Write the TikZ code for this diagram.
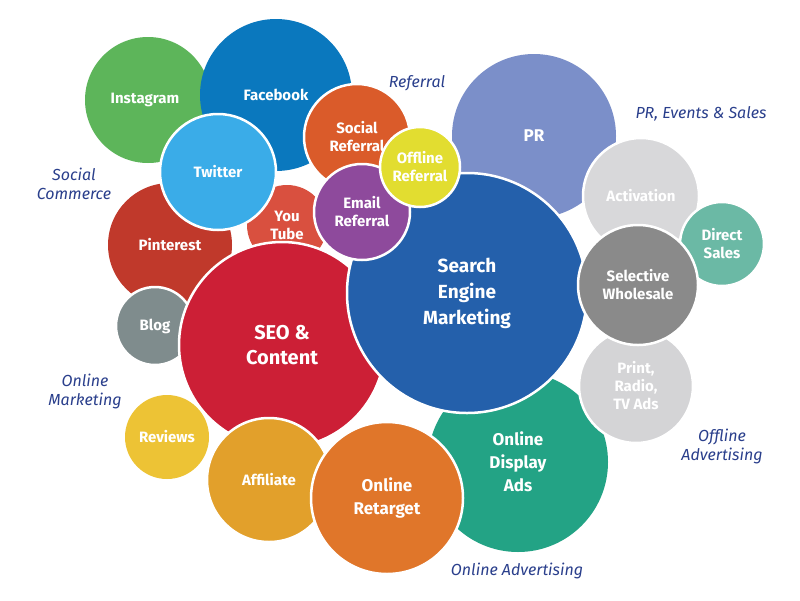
\documentclass[tikz,border=0pt]{standalone}
\usepackage{fontspec}
\setmainfont{Fira Sans}
\begin{document}
\begin{tikzpicture}[x=1pt,y=-1pt,
  bub/.style={circle,inner sep=0pt,align=center,text=white,font=\bfseries\fontsize{15}{18}\selectfont},
  wb/.style={draw=white,line width=2.5pt},
  lab/.style={align=center,text={rgb,255:red,42;green,63;blue,140},font=\itshape\fontsize{16}{19}\selectfont}]
\useasboundingbox[fill=white] (0,0) rectangle (800,600);
\definecolor{cInsta}{RGB}{93,181,90}
\definecolor{cFb}{RGB}{10,120,190}
\definecolor{cTw}{RGB}{58,172,232}
\definecolor{cPin}{RGB}{192,57,43}
\definecolor{cYt}{RGB}{217,80,63}
\definecolor{cBlog}{RGB}{127,140,141}
\definecolor{cSeo}{RGB}{204,31,54}
\definecolor{cRev}{RGB}{237,195,53}
\definecolor{cAff}{RGB}{226,160,43}
\definecolor{cRet}{RGB}{224,118,42}
\definecolor{cDisp}{RGB}{35,163,133}
\definecolor{cSem}{RGB}{36,96,171}
\definecolor{cSoc}{RGB}{218,91,42}
\definecolor{cEmail}{RGB}{142,74,156}
\definecolor{cOff}{RGB}{226,221,48}
\definecolor{cPr}{RGB}{123,143,201}
\definecolor{cAct}{RGB}{216,216,218}
\definecolor{cDir}{RGB}{107,185,165}
\definecolor{cSel}{RGB}{138,138,138}
\definecolor{cPrint}{RGB}{212,212,214}
\node[bub,fill=cInsta,minimum size=126pt] (insta) at (148,100) {\hspace*{-6pt}Instagram};
\node[bub,fill=cFb,minimum size=152pt] (fb) at (276,95) {};
\node[bub] at (276,95) {Facebook};
\node[bub,fill=cPin,minimum size=124pt] (pin) at (170,245) {};
\node[bub] at (170,245) {Pinterest};
\node[bub,fill=cYt,minimum size=80pt] (yt) at (287,225) {You\\Tube};
\node[bub,fill=cTw,wb,minimum size=116pt] (tw) at (218,172) {Twitter};
\node[bub,fill=cBlog,wb,minimum size=78pt] (blog) at (155,326) {Blog};
\node[bub,fill=cRev,minimum size=84pt] (rev) at (167,437) {Reviews};
\node[bub,fill=cSeo,wb,minimum size=206pt,font=\bfseries\fontsize{20}{25}\selectfont] (seo) at (282,345) {SEO \&\\Content};
\node[bub,fill=cAff,wb,minimum size=124pt] (aff) at (269,480) {Affiliate};
\node[bub,fill=cDisp,minimum size=180pt,font=\bfseries\fontsize{17}{23}\selectfont] (disp) at (518,462) {Online\\Display\\Ads};
\node[bub,fill=cRet,wb,minimum size=152pt,font=\bfseries\fontsize{17}{23}\selectfont] (ret) at (387,498) {Online\\Retarget};
\node[bub,fill=cPr,minimum size=164pt,font=\bfseries\fontsize{17}{20}\selectfont] (pr) at (534,136) {};
\node[bub,font=\bfseries\fontsize{17}{20}\selectfont] at (534,136) {PR};
\node[bub,fill=cSoc,wb,minimum size=106pt] (soc) at (357,137) {};
\node[bub] at (357,137) {Social\\Referral};
\node[bub,fill=cSem,wb,minimum size=240pt,font=\bfseries\fontsize{19}{26}\selectfont] (sem) at (467,293) {Search\\Engine\\Marketing};
\node[bub,fill=cEmail,wb,minimum size=96pt] (email) at (362,212) {Email\\Referral};
\node[bub,fill=cOff,wb,minimum size=80pt] (off) at (420,167) {Offline\\Referral};
\node[bub,fill=cAct,wb,minimum size=116pt] (act) at (641,196) {Activation};
\node[bub,fill=cDir,wb,minimum size=84pt] (dir) at (722,244) {Direct\\Sales};
\node[bub,fill=cPrint,wb,minimum size=114pt] (print) at (636,386) {Print,\\Radio,\\TV Ads};
\node[bub,fill=cSel,wb,minimum size=120pt] (sel) at (638,285) {Selective\\Wholesale};
\node[lab] (l1) at (417,83) {Referral};
\node[lab] (l2) at (701,114) {PR, Events \& Sales};
\node[lab] (l3) at (74,184) {Social\\Commerce};
\node[lab] (l4) at (85,391) {Online\\Marketing};
\node[lab] (l5) at (722,446) {Offline\\Advertising};
\node[lab] (l6) at (517,571) {Online Advertising};
\end{tikzpicture}
\end{document}
